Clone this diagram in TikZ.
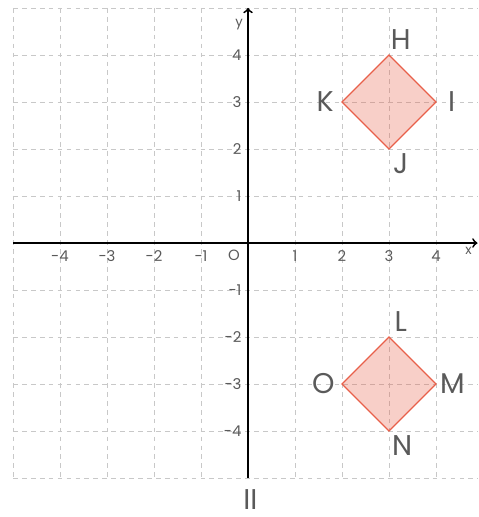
\documentclass[tikz,border=0pt]{standalone}
\usepackage{fontspec}
\setmainfont{Poppins}
\usepackage{tikz}
\usepackage{xcolor}
\definecolor{gridgray}{HTML}{C8C8C8}
\definecolor{textgray}{HTML}{5A5A5A}
\definecolor{rhomb}{HTML}{E8604A}
\begin{document}
\begin{tikzpicture}[x=1cm,y=1cm,font=\small,
  gridline/.style={gridgray,dash pattern=on 0.1cm off 0.09cm,line width=0.5pt},
  axis/.style={->,line width=1.1pt,black},
  tick/.style={textgray,font=\small,inner sep=1.5pt},
  vlabel/.style={textgray,font=\LARGE,inner sep=2pt},
  rhombus/.style={rhomb,fill=rhomb,fill opacity=0.3,line width=0.8pt,line join=miter}]
  \useasboundingbox (-5.277,-5.83) rectangle (4.894,5.17);
  % grid
  \foreach \k in {-5,...,4} {
    \draw[gridline] (\k,5) -- (\k,-5);
  }
  \foreach \k in {-5,...,5} {
    \draw[gridline] (-5,\k) -- (4.894,\k);
  }
  % rhombs
  \coordinate (H) at (3,4);
  \coordinate (I) at (4,3);
  \coordinate (J) at (3,2);
  \coordinate (K) at (2,3);
  \coordinate (L) at (3,-2);
  \coordinate (M) at (4,-3);
  \coordinate (N) at (3,-4);
  \coordinate (O) at (2,-3);
  \draw[rhombus] (H) -- (I) -- (J) -- (K) -- cycle;
  \draw[rhombus] (L) -- (M) -- (N) -- (O) -- cycle;
  % axes
  \coordinate (xl) at (-5,0);
  \coordinate (xr) at (4.88,0);
  \coordinate (yb) at (0,-5);
  \coordinate (yt) at (0,5);
  \draw[axis] (xl) -- (xr);
  \draw[axis] (yb) -- (yt);
  \node[textgray,font=\footnotesize,anchor=north east,inner sep=1pt] (xlab) at (4.8,-0.05) {x};
  \node[textgray,font=\footnotesize,anchor=north east,inner sep=1pt] (ylab) at (-0.07,4.8) {y};
  \foreach \x in {-4,...,-1,1,2,3,4} {
    \node[tick,below] at (\x,-0.1) {\x};
  }
  \foreach \y in {-4,...,-1,1,2,3,4} {
    \node[tick,left] at (-0.08,\y) {\y};
  }
  \node[tick,below] (orig) at (-0.3,-0.1) {O};
  % vertex labels
  \node[vlabel] (lH) at (3.25,4.32) {H};
  \node[vlabel] (lI) at (4.33,3) {I};
  \node[vlabel] (lJ) at (3.25,1.68) {J};
  \node[vlabel] (lK) at (1.64,3) {K};
  \node[vlabel] (lL) at (3.25,-1.68) {L};
  \node[vlabel] (lM) at (4.35,-3) {M};
  \node[vlabel] (lN) at (3.28,-4.32) {N};
  \node[vlabel] (lO) at (1.6,-3) {O};
  \node[vlabel,inner sep=0pt] (cap) at (0.05,-5.45) {II};
\end{tikzpicture}
\end{document}
